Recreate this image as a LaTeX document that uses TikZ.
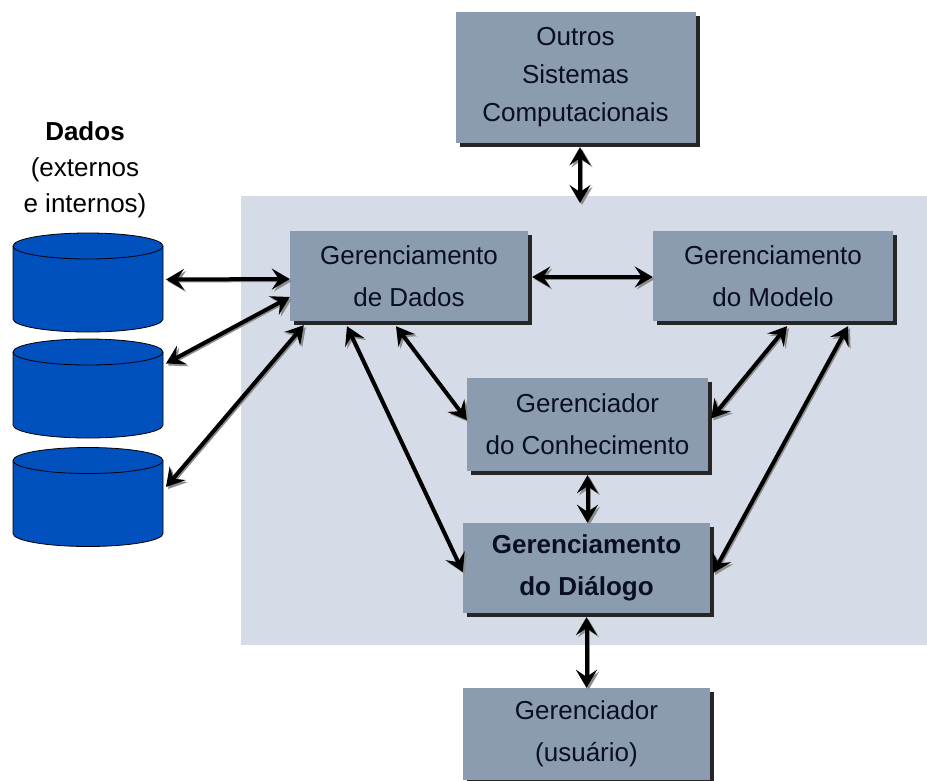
\documentclass[tikz,border=0pt]{standalone}
\usepackage{fontspec}
\setmainfont{Liberation Sans}
\usetikzlibrary{arrows.meta,shadows}
\definecolor{panelcol}{HTML}{D5DBE7}
\definecolor{boxcol}{HTML}{8B9BB0}
\definecolor{inkcol}{HTML}{0A0E22}
\definecolor{diskcol}{HTML}{0050BE}
\tikzset{
  module/.style={rectangle,fill=boxcol,text=inkcol,align=center,inner sep=0pt,
    font=\fontsize{26}{42}\selectfont,
    drop shadow={shadow xshift=4pt,shadow yshift=-4pt,fill=black!85,opacity=1}},
  disk/.style={rectangle,minimum width=150pt,minimum height=99pt,inner sep=0pt,outer sep=0pt},
  diskline/.style={draw=black,line width=0.8pt},
  link/.style={<->,>={Stealth[length=18pt,width=21pt,inset=7pt]},line width=4pt,black,
    preaction={draw=black!45,line width=2pt,transform canvas={shift={(2pt,-2pt)}}}}
}
\begin{document}
\begin{tikzpicture}[x=1pt,y=-1pt]
  \useasboundingbox (0,0) rectangle (927,780);
  \fill[panelcol] (241,196) rectangle (927,645);
  % modules
  \node[module,minimum width=240pt,minimum height=131pt,font=\fontsize{26}{38}\selectfont] (outros) at (575.5,77.5)
    {Outros\\Sistemas\\Computacionais};
  \node[module,minimum width=238pt,minimum height=90pt] (dados) at (409,276) {Gerenciamento\\de Dados};
  \node[module,minimum width=240pt,minimum height=90pt] (modelo) at (773,276) {Gerenciamento\\do Modelo};
  \node[module,minimum width=241pt,minimum height=93pt] (conhecimento) at (587.5,424.5) {Gerenciador\\do Conhecimento};
  \node[module,minimum width=247pt,minimum height=90pt,font=\fontsize{26}{42}\selectfont\bfseries] (dialogo) at (586.5,568) {Gerenciamento\\do Diálogo};
  \node[module,minimum width=247pt,minimum height=92pt] (usuario) at (586.5,734) {Gerenciador\\(usuário)};
  % disks
  \node[disk] (disk1) at (88,282.5) {};
  \node[disk] (disk2) at (88,388.5) {};
  \node[disk] (disk3) at (88,497) {};
  \foreach \d in {disk1,disk2,disk3} {
    \draw[diskline,fill=diskcol] ([yshift=-13pt]\d.north west)
      arc[start angle=180,end angle=0,x radius=75pt,y radius=13pt]
      -- ([yshift=13pt]\d.south east)
      arc[start angle=0,end angle=-180,x radius=75pt,y radius=13pt] -- cycle;
    \draw[diskline] ([yshift=-13pt]\d.north west)
      arc[start angle=180,end angle=360,x radius=75pt,y radius=13pt];
  }
  \node[align=center,text=black,font=\fontsize{26}{36}\selectfont] (rotulo) at (85,170)
    {\textbf{Dados}\\(externos\\e internos)};
  % links
  \draw[link] ([xshift=4.5pt,yshift=-4pt]outros.south) to ([xshift=4.5pt,yshift=-7pt]outros.south |- 0,196);
  \draw[link] ([xshift=3pt,yshift=3pt]disk1.east) to ([yshift=-3pt]dados.west);
  \draw[link] ([xshift=3pt,yshift=25pt]disk2.east) to ([yshift=-21pt]dados.west);
  \draw[link] ([xshift=3pt,yshift=10pt]disk3.east) to ([xshift=14pt,yshift=-4pt]dados.south west);
  \draw[link] ([xshift=4pt,yshift=-1pt]dados.east) to ([yshift=-1pt]modelo.west);
  \draw[link] ([xshift=-13pt,yshift=-5pt]dados.south) to ([yshift=4.5pt]conhecimento.west);
  \draw[link] ([xshift=-62pt,yshift=-5pt]dados.south) to ([yshift=-4pt]dialogo.west);
  \draw[link] ([xshift=14pt,yshift=-5pt]modelo.south) to ([xshift=3pt,yshift=6pt]conhecimento.east);
  \draw[link] ([xshift=75pt,yshift=-5pt]modelo.south) to ([xshift=3pt,yshift=-5pt]dialogo.east);
  \draw[link] ([yshift=-4pt]conhecimento.south) to (dialogo.north -| conhecimento.south);
  \draw[link] ([yshift=-4pt]dialogo.south) to (usuario.north);
\end{tikzpicture}
\end{document}
